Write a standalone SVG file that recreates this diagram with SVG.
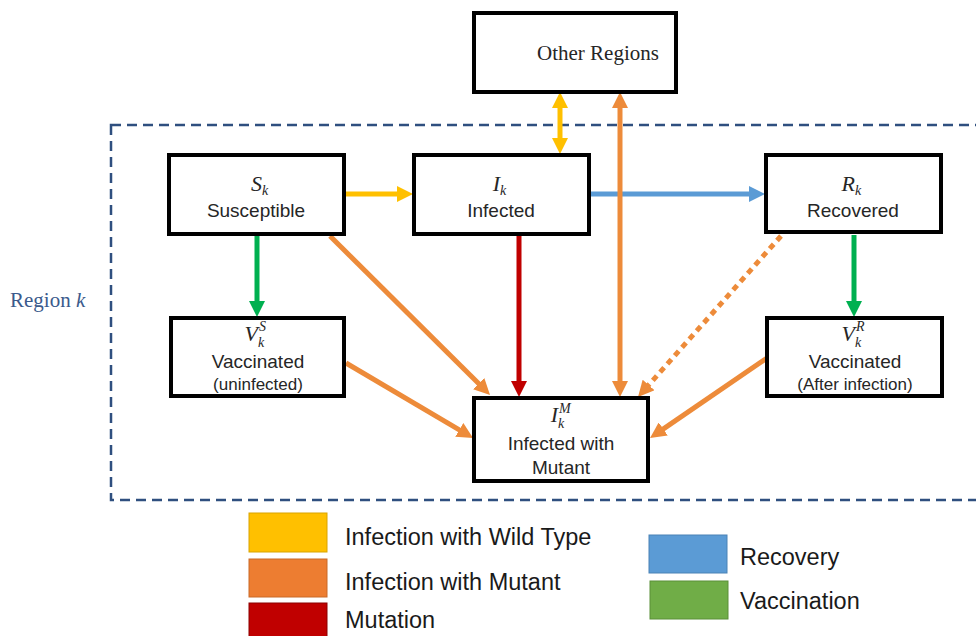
<svg xmlns="http://www.w3.org/2000/svg" width="976" height="636" viewBox="0 0 976 636">
<style>
.box{fill:#fff;stroke:#000;stroke-width:4}
.lbl{font-family:"Liberation Sans",Arial,sans-serif;font-size:19px;fill:#262626;text-anchor:middle}
.small{font-size:17px}
.math{font-family:"Liberation Serif","Times New Roman",serif;font-style:italic;font-size:22px;fill:#262626;text-anchor:end}
.idx{font-family:"Liberation Serif","Times New Roman",serif;font-style:italic;font-size:14px;fill:#262626}
.leg{font-family:"Liberation Sans",Arial,sans-serif;font-size:23.5px;fill:#1a1a1a}
.ln{fill:none;stroke-width:5}
</style>
<defs>
<marker id="aY" viewBox="0 0 16 16" markerWidth="16" markerHeight="16" markerUnits="userSpaceOnUse" refX="2" refY="8" orient="auto-start-reverse"><path d="M0,0L16,8L0,16z" fill="#FFC000"/></marker>
<marker id="aO" viewBox="0 0 16 16" markerWidth="16" markerHeight="16" markerUnits="userSpaceOnUse" refX="2" refY="8" orient="auto-start-reverse"><path d="M0,0L16,8L0,16z" fill="#ED8B3A"/></marker>
<marker id="aR" viewBox="0 0 16 16" markerWidth="16" markerHeight="16" markerUnits="userSpaceOnUse" refX="2" refY="8" orient="auto"><path d="M0,0L16,8L0,16z" fill="#C00000"/></marker>
<marker id="aB" viewBox="0 0 16 16" markerWidth="16" markerHeight="16" markerUnits="userSpaceOnUse" refX="2" refY="8" orient="auto"><path d="M0,0L16,8L0,16z" fill="#5B9BD5"/></marker>
<marker id="aG" viewBox="0 0 16 16" markerWidth="16" markerHeight="16" markerUnits="userSpaceOnUse" refX="2" refY="8" orient="auto"><path d="M0,0L16,8L0,16z" fill="#00B050"/></marker>
</defs>
<rect width="976" height="636" fill="#fff"/>

<g id="region">
<rect x="111" y="125" width="870" height="375" fill="none" stroke="#2F4F7F" stroke-width="2.5" stroke-dasharray="10 6"/>
<text x="10" y="307" font-family="Liberation Serif,'Times New Roman',serif" font-size="21" fill="#3B5A8C">Region <tspan font-style="italic">k</tspan></text>
</g>

<g id="connectors">
<line class="ln" x1="346" y1="194" x2="399" y2="194" stroke="#FFC000" marker-end="url(#aY)"/>
<line class="ln" x1="591" y1="194" x2="751" y2="194" stroke="#5B9BD5" marker-end="url(#aB)"/>
<line class="ln" x1="257" y1="236" x2="257" y2="303" stroke="#00B050" marker-end="url(#aG)"/>
<line class="ln" x1="854" y1="235" x2="854" y2="303" stroke="#00B050" marker-end="url(#aG)"/>
<line class="ln" x1="519" y1="236" x2="519" y2="383" stroke="#C00000" marker-end="url(#aR)"/>
<line class="ln" x1="560" y1="106" x2="560" y2="140" stroke="#FFC000" marker-start="url(#aY)" marker-end="url(#aY)"/>
<line class="ln" x1="620" y1="106" x2="620" y2="383" stroke="#ED8B3A" marker-start="url(#aO)" marker-end="url(#aO)"/>
<line class="ln" x1="330" y1="236" x2="480.1" y2="385.1" stroke="#ED8B3A" marker-end="url(#aO)"/>
<line class="ln" x1="346" y1="363" x2="461" y2="430.9" stroke="#ED8B3A" marker-end="url(#aO)"/>
<line class="ln" x1="781" y1="236" x2="647.3" y2="386.5" stroke="#ED8B3A" stroke-dasharray="6 5" marker-end="url(#aO)"/>
<line class="ln" x1="767" y1="358" x2="661.6" y2="430.1" stroke="#ED8B3A" marker-end="url(#aO)"/>
</g>

<g id="other">
<rect class="box" x="474" y="13" width="202" height="79"/>
<text x="598" y="60" font-family="Liberation Serif,'Times New Roman',serif" font-size="21" fill="#262626" text-anchor="middle">Other Regions</text>
</g>

<g id="S">
<rect class="box" x="169" y="155" width="175" height="79"/>
<text class="math" x="262" y="191">S</text>
<text class="idx" x="262" y="195">k</text>
<text class="lbl" x="256" y="217">Susceptible</text>
</g>

<g id="I">
<rect class="box" x="414" y="155" width="175" height="79"/>
<text class="math" x="500" y="191">I</text>
<text class="idx" x="500" y="195">k</text>
<text class="lbl" x="501" y="217">Infected</text>
</g>

<g id="R">
<rect class="box" x="766" y="155" width="175" height="77"/>
<text class="math" x="855" y="191">R</text>
<text class="idx" x="855" y="195">k</text>
<text class="lbl" x="853" y="217">Recovered</text>
</g>

<g id="VS">
<rect class="box" x="171" y="318" width="173" height="78"/>
<text class="math" x="258" y="341">V</text>
<text class="idx" x="259" y="331">S</text>
<text class="idx" x="258" y="347">k</text>
<text class="lbl" x="258" y="368">Vaccinated</text>
<text class="lbl small" x="258" y="390">(uninfected)</text>
</g>

<g id="IM">
<rect class="box" x="474" y="398" width="174" height="83"/>
<text class="math" x="558" y="422">I</text>
<text class="idx" x="559" y="413">M</text>
<text class="idx" x="558" y="428">k</text>
<text class="lbl" x="561" y="450">Infected with</text>
<text class="lbl" x="561" y="474">Mutant</text>
</g>

<g id="VR">
<rect class="box" x="767" y="318" width="175" height="78"/>
<text class="math" x="855" y="341">V</text>
<text class="idx" x="856" y="331">R</text>
<text class="idx" x="855" y="347">k</text>
<text class="lbl" x="855" y="368">Vaccinated</text>
<text class="lbl small" x="855" y="390">(After infection)</text>
</g>

<g id="legend">
<rect x="249" y="513" width="78" height="39" fill="#FFC000" stroke="#D9A400" stroke-width="1"/>
<rect x="249" y="559" width="78" height="38" fill="#ED7D31" stroke="#C96A29" stroke-width="1"/>
<rect x="249" y="603" width="78" height="36" fill="#C00000" stroke="#8B0000" stroke-width="1"/>
<rect x="649" y="535" width="78" height="38" fill="#5B9BD5" stroke="#4A82B5" stroke-width="1"/>
<rect x="650" y="581" width="78" height="38" fill="#70AD47" stroke="#5A8F38" stroke-width="1"/>
<text class="leg" x="345" y="545">Infection with Wild Type</text>
<text class="leg" x="345" y="590">Infection with Mutant</text>
<text class="leg" x="345" y="628">Mutation</text>
<text class="leg" x="740" y="565">Recovery</text>
<text class="leg" x="740" y="609">Vaccination</text>
</g>
</svg>
